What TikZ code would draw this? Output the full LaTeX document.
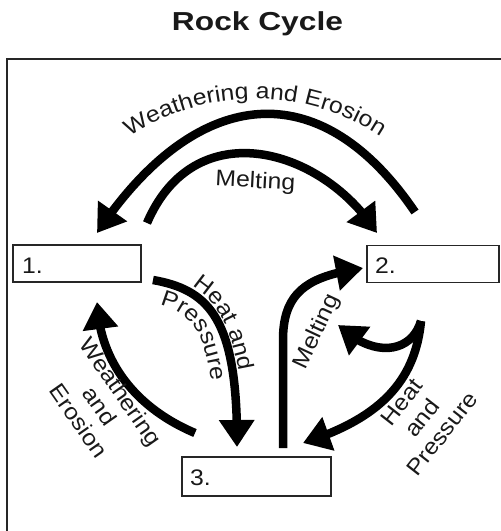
\documentclass[tikz,border=0pt]{standalone}
\usepackage{fontspec}
\setmainfont{Liberation Sans}
\newfontfamily\lblfont[FakeStretch=1.1]{Liberation Sans}
\newfontfamily\ttlfont[FakeStretch=1.22]{Liberation Sans}
\usetikzlibrary{arrows.meta,bending,decorations.text}
\newcommand\lblsize{\lblfont\fontsize{22.5}{25.5}\selectfont}
\begin{document}
\begin{tikzpicture}[x=1pt,y=-1pt,
  flow/.style={line width=8.5pt,-{Triangle[length=27pt,width=34pt]}},
  box/.style={draw=black!85, line width=1.8pt, minimum height=37pt, inner sep=0pt},
  lbl/.style={font=\lblsize, text=black!90, align=center, inner sep=0pt}
]
\useasboundingbox (0,0) rectangle (501,531);
% frame
\draw[line width=2pt, black!85] (7,545) -- (7,59) -- (515,59);
% title
\node[font=\ttlfont\bfseries\fontsize{26}{30}\selectfont, text=black!90, anchor=base, inner sep=0pt] (title) at (257.5,30) {Rock Cycle};
% boxes
\node[box, minimum width=128pt] (b1) at (77,263.5) {};
\node[box, minimum width=132pt] (b2) at (433,264) {};
\node[box, minimum width=149pt, minimum height=39pt] (b3) at (256.5,476.5) {};
\node[lbl, anchor=base west] (n1) at (22,273) {1.};
\node[lbl, anchor=base west] (n2) at (375,273) {2.};
\node[lbl, anchor=base west] (n3) at (190,485) {3.};
% coordinates
\coordinate (weS) at (415,212); \coordinate (weE) at (97,233);
\coordinate (mtS) at (147,223); \coordinate (mtE) at (377,233);
\coordinate (hpS) at (153,280); \coordinate (hpE) at (237,447);
\coordinate (wlS) at (195,433); \coordinate (wlE) at (97,302);
\coordinate (mmS) at (283,448); \coordinate (mmK) at (283,340); \coordinate (mmE) at (363,268);
\coordinate (hrS) at (421,321); \coordinate (hrE) at (303,443);
\coordinate (brE) at (338,325);
% top arcs
\draw[flow] (weS) .. controls (318,69) and (194,87.5) .. (weE);
\draw[flow] (mtS) .. controls (195,111) and (323,148) .. (mtE);
\path[decorate, decoration={text along path, text align=center, text color=black!90,
  text={|\lblsize|Weathering and Erosion}}]
  (118,144.7) .. controls (199.3,83.6) and (310.7,83.6) .. (392,144.7);
\node[lbl, anchor=base, rotate=-3] (mtL) at (255,188) {Melting};
% lower arrows
\draw[flow] (hpS) .. controls (210,290) and (238,320) .. (hpE);
\draw[flow] (wlS) .. controls (145,412) and (100,370) .. (wlE);
\draw[flow] (mmS) -- (mmK) .. controls (283,290) and (310,276) .. (mmE);
\draw[flow] (hrS) .. controls (415,385) and (375,420) .. (hrE);
\draw[flow] (hrS) .. controls (412,352) and (375,360) .. (brE);
% labels
\path[decorate, decoration={text along path, text align={left indent=40pt}, text color=black!90,
  text={|\lblsize|Heat and}}]
  (154.2,273.1) .. controls (211.2,283.1) and (245,320) .. (244,447);
\path[decorate, decoration={text along path, text align={left indent=11pt}, text color=black!90,
  text={|\lblsize|Pressure}}]
  (149,302.7) .. controls (191.8,310.2) and (215,326.4) .. (214,447);
\node[lbl, rotate=-55] (wlL) at (100,406) {Weathering\\and\\Erosion};
\node[lbl, rotate=65] (mmL) at (317,332) {Melting};
\node[lbl, rotate=52] (hrL) at (422,418) {Heat\\and\\Pressure};
\end{tikzpicture}
\end{document}
